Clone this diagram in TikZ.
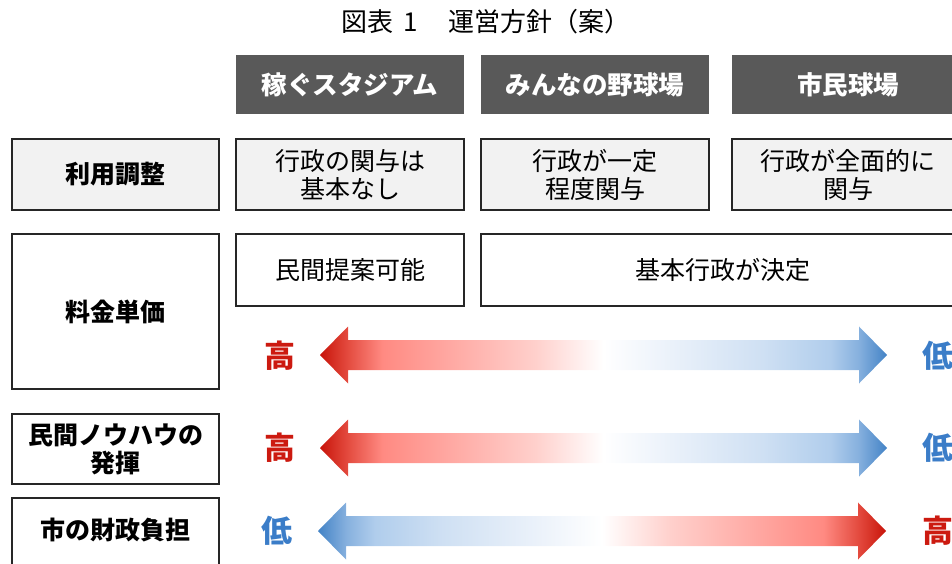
\documentclass[tikz,border=0pt]{standalone}
\usepackage{fontspec}
\setmainfont{Noto Sans CJK JP}
\definecolor{hdgray}{HTML}{595959}
\definecolor{cellgray}{HTML}{F2F2F2}
\definecolor{lineblk}{HTML}{262626}
\definecolor{hired}{HTML}{CC1A10}
\definecolor{lowblue}{HTML}{3B7DC8}
\definecolor{rA}{HTML}{C8140A}
\definecolor{rB}{HTML}{E44C40}
\definecolor{rC}{HTML}{FF8A82}
\definecolor{rD}{HTML}{FFA6A0}
\definecolor{rE}{HTML}{FFD0CC}
\definecolor{bE}{HTML}{EAF1FA}
\definecolor{bD}{HTML}{CFE0F3}
\definecolor{bC}{HTML}{B0CDEC}
\definecolor{bB}{HTML}{86B0DE}
\definecolor{bA}{HTML}{4383C6}
\pgfdeclarehorizontalshading{redblue}{100bp}{%
  color(0bp)=(rA); color(25bp)=(rA); color(27.5bp)=(rB); color(30.5bp)=(rC);
  color(36bp)=(rD); color(44bp)=(rE); color(50bp)=(white);
  color(56bp)=(bE); color(64bp)=(bD); color(70bp)=(bC); color(72.5bp)=(bB);
  color(75bp)=(bA); color(100bp)=(bA)}
\pgfdeclarehorizontalshading{bluered}{100bp}{%
  color(0bp)=(bA); color(25bp)=(bA); color(27.5bp)=(bB); color(30bp)=(bC);
  color(36bp)=(bD); color(44bp)=(bE); color(50bp)=(white);
  color(56bp)=(rE); color(64bp)=(rD); color(69.5bp)=(rC); color(72.5bp)=(rB);
  color(75bp)=(rA); color(100bp)=(rA)}
\begin{document}
\begin{tikzpicture}[x=1pt,y=-1pt,
  every node/.style={inner sep=0pt, outer sep=0pt},
  txt/.style={font=\fontsize{25pt}{28pt}\selectfont, align=center},
  head/.style={fill=hdgray, draw=none, text=white, align=center,
    font=\fontsize{25.5pt}{28pt}\selectfont\bfseries},
  cell/.style={draw=lineblk, line width=1.2pt, align=center,
    font=\fontsize{25pt}{28pt}\selectfont},
  graycell/.style={cell, fill=cellgray},
  labcell/.style={cell, font=\fontsize{25pt}{28pt}\selectfont\bfseries},
  hi/.style={text=hired, font=\fontsize{31pt}{32pt}\selectfont\bfseries},
  lo/.style={text=lowblue, font=\fontsize{31pt}{32pt}\selectfont\bfseries},
  grad/.style={draw=none, shading=#1}]
\useasboundingbox (0,0) rectangle (952,564);
\clip (0,0) rectangle (952,564);

% title
\node[txt, font=\fontsize{26pt}{28pt}\selectfont] (title) at (486,22) {図表\hspace{10pt}1\hspace{31pt}運営方針（案）};

% headers
\node[head, minimum width=228pt, minimum height=59pt] (h1) at (350,84.5) {稼ぐスタジアム};
\node[head, minimum width=228pt, minimum height=59pt] (h2) at (595,84.5) {みんなの野球場};
\node[head, minimum width=232pt, minimum height=59pt] (h3) at (848,84.5) {市民球場};

% left column
\node[labcell, fill=cellgray, minimum width=207pt, minimum height=71pt] (L1) at (115.5,174.5) {利用調整};
\node[labcell, minimum width=207pt, minimum height=155pt] (L2) at (115.5,311.5) {料金単価};
\node[labcell, minimum width=207pt, minimum height=70pt] (L3) at (115.5,449) {民間ノウハウの\\発揮};
\node[labcell, minimum width=207pt, minimum height=72pt] (L4) at (115.5,534) {};
\node[txt, font=\fontsize{25pt}{28pt}\selectfont\bfseries] (L4t) at (115.5,530) {市の財政負担};

% row 1
\node[graycell, minimum width=228pt, minimum height=71pt] (r11) at (350,174.5) {行政の関与は\\基本なし};
\node[graycell, minimum width=228pt, minimum height=71pt] (r12) at (595,174.5) {行政が一定\\程度関与};
\node[graycell, minimum width=232pt, minimum height=71pt] (r13) at (848,174.5) {行政が全面的に\\関与};

% row 2
\node[cell, minimum width=228pt, minimum height=72pt] (r21) at (350,270) {民間提案可能};
\node[cell, minimum width=483pt, minimum height=72pt] (r22) at (722.5,270) {基本行政が決定};

% arrows
\foreach \yc/\sh/\xl/\xr in {355/redblue/320/887, 448/redblue/320/887, 531/bluered/318/886}{
  \path[grad=\sh] (\xl,\yc) -- (\xl+28,\yc-28.5) -- (\xl+28,\yc-15) -- (\xr-28,\yc-15)
    -- (\xr-28,\yc-28.5) -- (\xr,\yc) -- (\xr-28,\yc+28.5) -- (\xr-28,\yc+15)
    -- (\xl+28,\yc+15) -- (\xl+28,\yc+28.5) -- cycle;
}

% level labels
\node[hi] (a1l) at (280,356) {高};
\node[lo] (a1r) at (938,356) {低};
\node[hi] (a2l) at (280,448) {高};
\node[lo] (a2r) at (938,448) {低};
\node[lo] (a3l) at (277,531) {低};
\node[hi] (a3r) at (938,531) {高};
\end{tikzpicture}
\end{document}
